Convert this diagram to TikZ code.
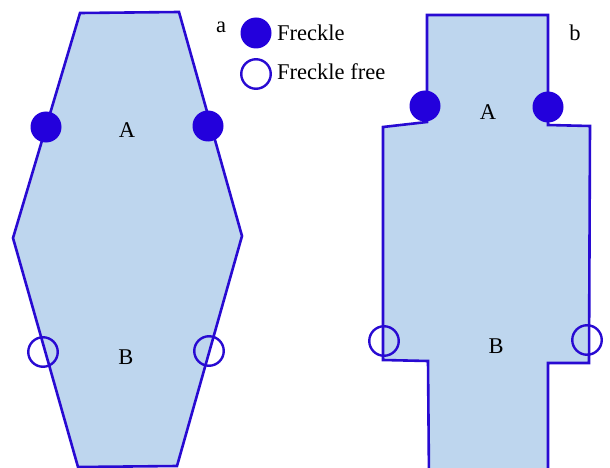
\documentclass[tikz,border=0pt]{standalone}
\usepackage{fontspec}
\setmainfont{Liberation Serif}
\definecolor{edgeblue}{RGB}{40,10,210}
\definecolor{dotblue}{RGB}{35,0,220}
\definecolor{bodyblue}{RGB}{190,214,238}
\begin{document}
\begin{tikzpicture}[x=1pt,y=-1pt,
  body/.style={fill=bodyblue,draw=edgeblue,line width=2.6pt,line join=miter},
  dot/.style={circle,fill=dotblue,draw=none,minimum size=31pt,inner sep=0pt},
  ring/.style={circle,draw=edgeblue,line width=2.4pt,fill=none,minimum size=29.5pt,inner sep=0pt},
  lbl/.style={font=\fontsize{22.5}{26}\selectfont,inner sep=0pt,anchor=base}]
\useasboundingbox (0,0) rectangle (610,468);
\clip (0,0) rectangle (610,468);
% shape a
\draw[body] (80,13) -- (179,12) -- (242,236) -- (177,466) -- (78,467) -- (13,238) -- cycle;
% shape b
\draw[body] (427,15) -- (548,15) -- (548,125) -- (590,126) -- (589,363) -- (548,363) -- (548,480)
  -- (429,480) -- (428,361) -- (383,360) -- (383,127) -- (427,122) -- cycle;
% freckles a
\node[dot] (aAl) at (46,127) {};
\node[dot] (aAr) at (208,126) {};
\node[ring] (aBl) at (43,352) {};
\node[ring] (aBr) at (209,351) {};
% freckles b
\node[dot] (bAl) at (425,106) {};
\node[dot] (bAr) at (548,107) {};
\node[ring] (bBl) at (384,341) {};
\node[ring] (bBr) at (587,340) {};
% labels
\node[lbl] (la) at (127,137) {A};
\node[lbl] (lb) at (126,364) {B};
\node[lbl] (lc) at (488,120) {A};
\node[lbl] (ld) at (496,353) {B};
\node[lbl] (tagA) at (221,33) {a};
\node[lbl] (tagB) at (575,41) {b};
% legend
\node[dot] (legdot) at (256,33) {};
\node[ring] (legring) at (256,74) {};
\node[lbl,anchor=base west] (legt1) at (277,41) {Freckle};
\node[lbl,anchor=base west] (legt2) at (277,80) {Freckle free};
\end{tikzpicture}
\end{document}
